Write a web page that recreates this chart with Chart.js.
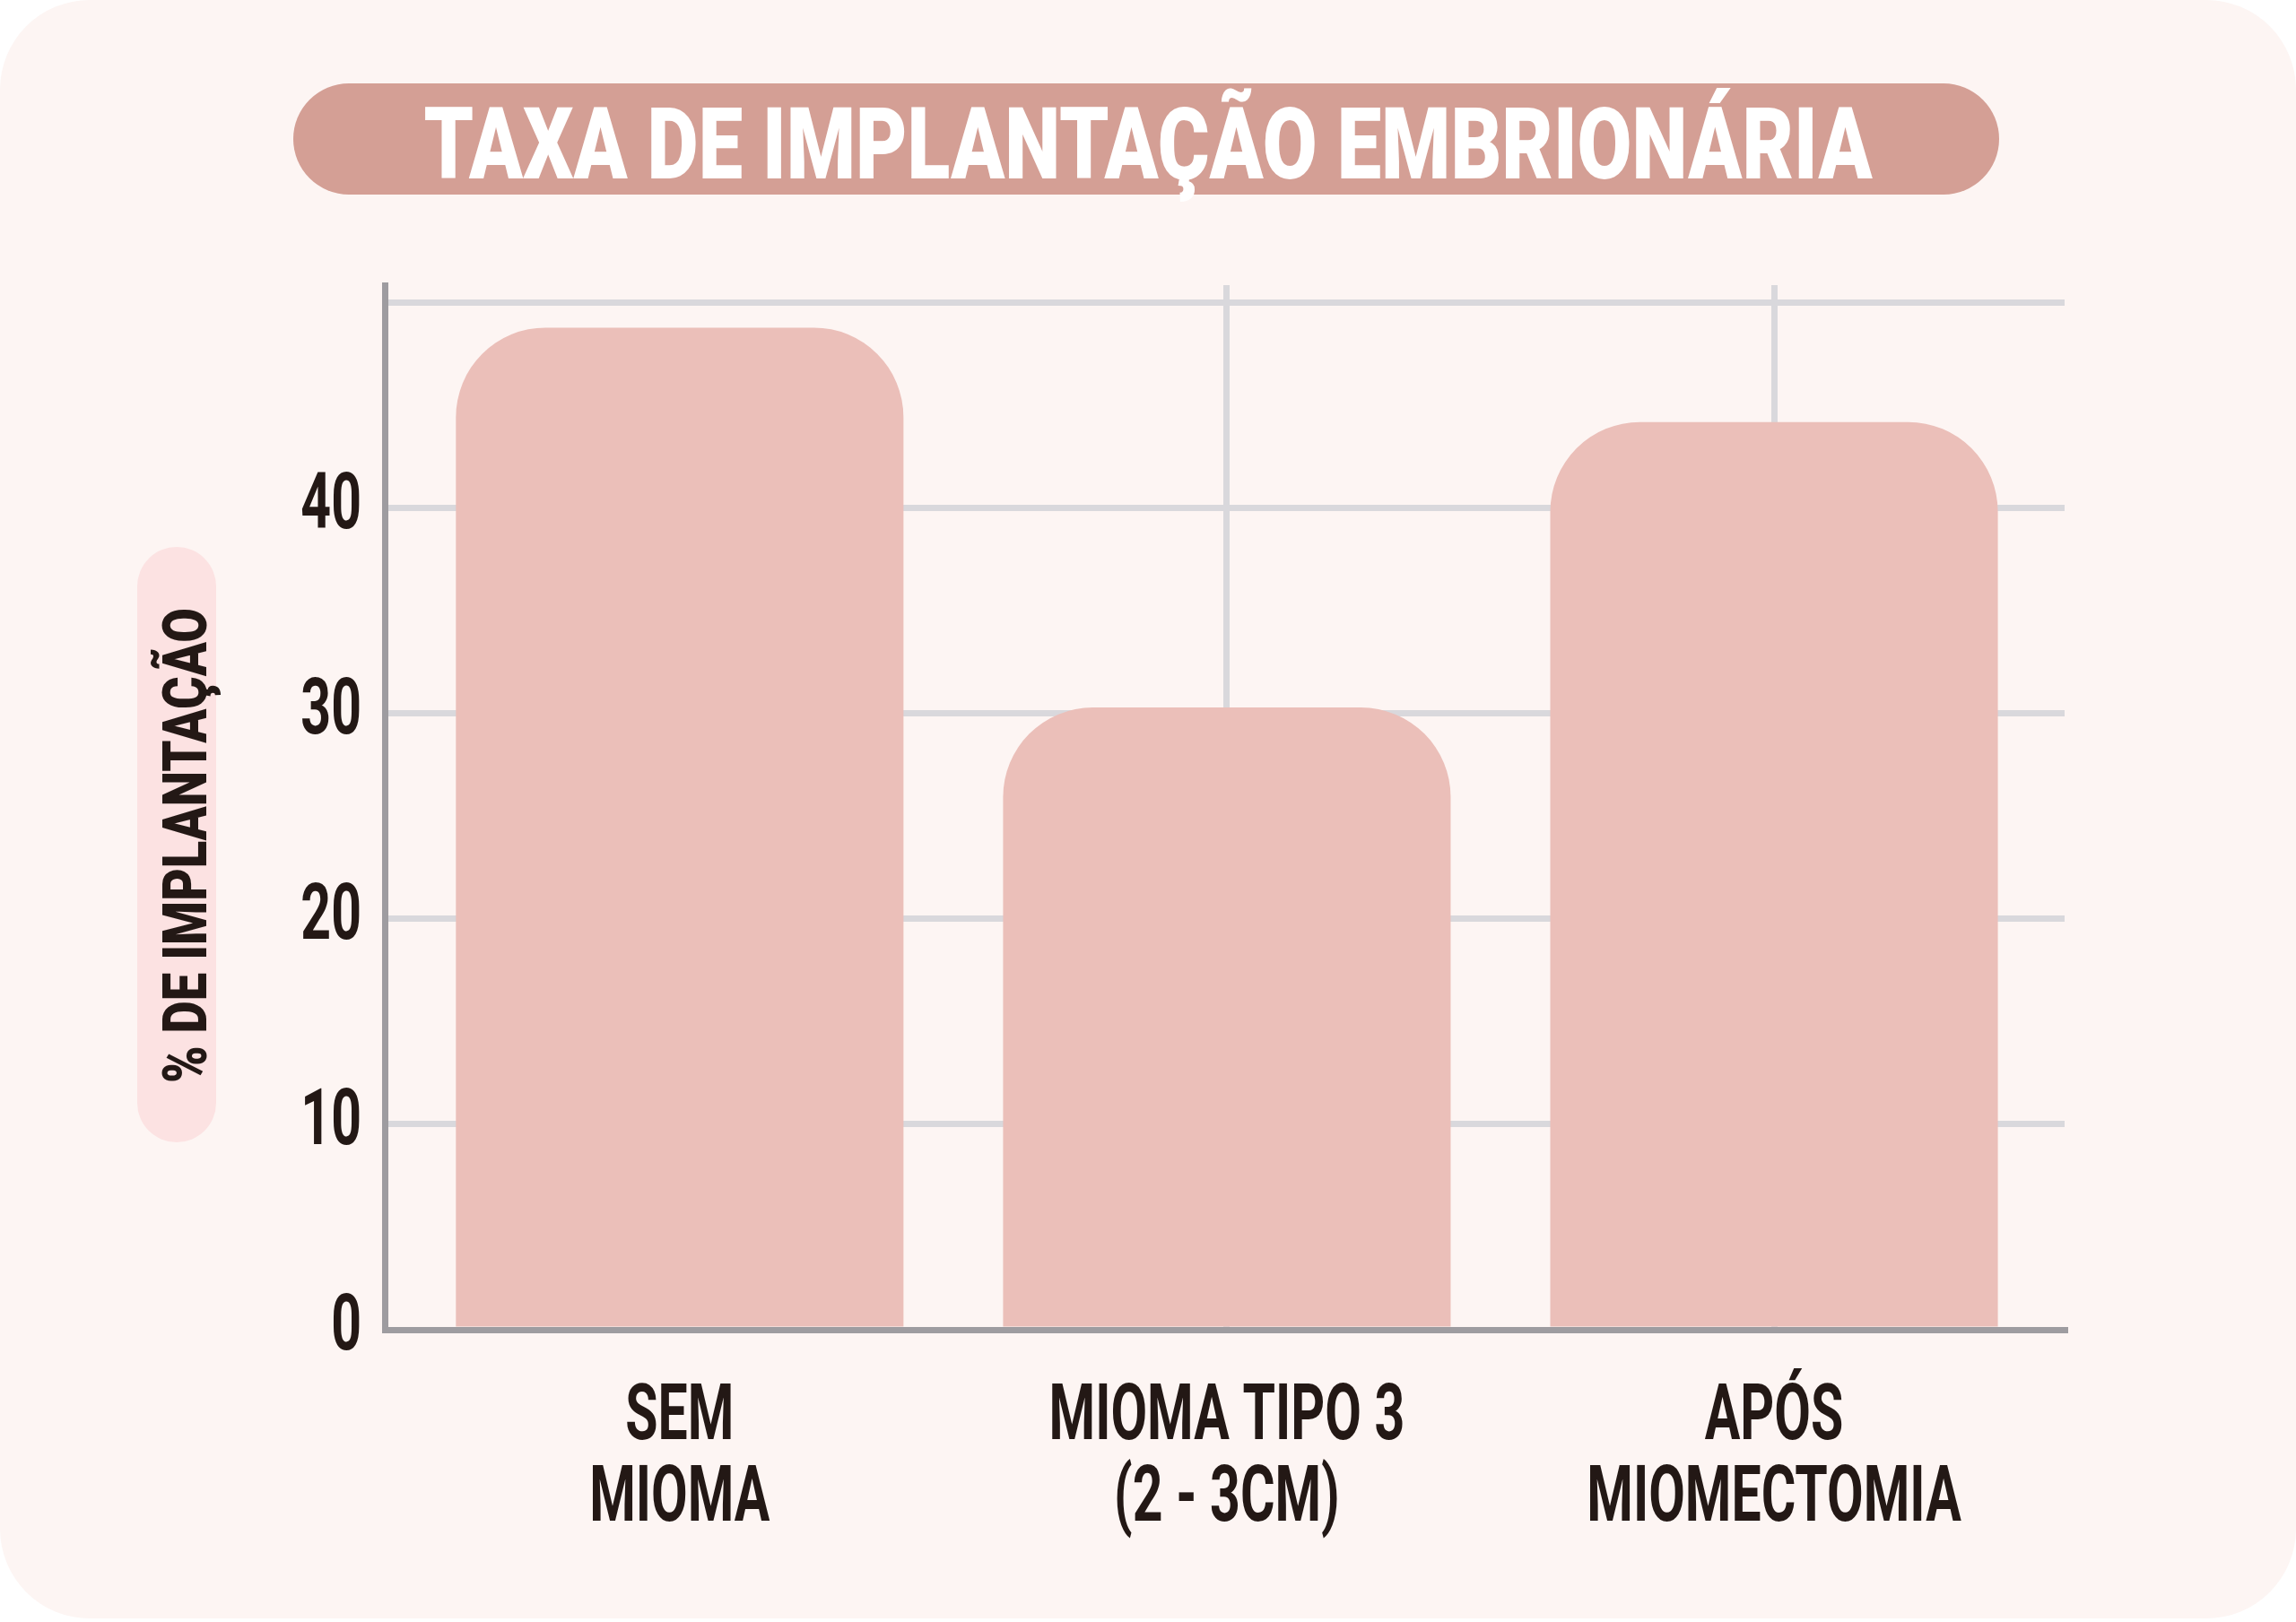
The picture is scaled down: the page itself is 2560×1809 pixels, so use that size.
<!DOCTYPE html>
<html>
<head>
<meta charset="utf-8">
<script src="https://cdn.jsdelivr.net/npm/chart.js@4.4.1/dist/chart.umd.min.js"></script>
<style>
  html, body { margin: 0; padding: 0; background: #ffffff; overflow: hidden; }
  #wrap { width: 2560px; height: 1809px; position: relative; }
  canvas { display: block; }
</style>
</head>
<body>
<div id="wrap"><canvas id="c" width="2560" height="1809"></canvas></div>
<script>
// ---- data ----
const categories = [['SEM', 'MIOMA'], ['MIOMA TIPO 3', '(2 - 3CM)'], ['APÓS', 'MIOMECTOMIA']];
const implantationRates = [48.8, 30.3, 44.2];
const yTickValues = [0, 10, 20, 30, 40, 50];
const yTickLabels = ['0', '10', '20', '30', '40', ''];
const chartTitle = 'TAXA DE IMPLANTAÇÃO EMBRIONÁRIA';
const yAxisTitle = '% DE IMPLANTAÇÃO';

// ---- style ----
const CARD_BG = '#fdf5f3';
const TITLE_PILL = '#d49f95';
const YTITLE_PILL = '#fce2e2';
const BAR_COLOR = '#ebbfb9';
const GRID_COLOR = '#d9d8dc';
const AXIS_COLOR = '#9e9ca0';
const TEXT_COLOR = '#231815';
const CONDENSE = 0.67;
const TRANSPARENT = 'rgba(0,0,0,0)';

function condensedText(ctx, text, cx, cy, font, targetWidth, color, rot) {
  ctx.save();
  ctx.font = font;
  const w = ctx.measureText(text).width;
  const cap = ctx.measureText('H').actualBoundingBoxAscent;
  ctx.translate(cx, cy);
  ctx.rotate(rot || 0);
  ctx.scale(targetWidth / w, 1);
  ctx.fillStyle = color;
  ctx.textAlign = 'center';
  ctx.textBaseline = 'alphabetic';
  ctx.fillText(text, 0, cap / 2);
  ctx.restore();
}

const decorPlugin = {
  id: 'decor',
  beforeDraw(chart) {
    const ctx = chart.ctx;
    const W = chart.width, H = chart.height;
    ctx.save();
    ctx.fillStyle = '#ffffff';
    ctx.fillRect(0, 0, W, H);
    ctx.fillStyle = CARD_BG;
    ctx.beginPath();
    ctx.roundRect(0, 0, W, H - 4, 100);
    ctx.fill();
    // title pill
    ctx.fillStyle = TITLE_PILL;
    ctx.beginPath();
    ctx.roundRect(327, 93, 1902, 124, 62);
    ctx.fill();
    // y title pill
    ctx.fillStyle = YTITLE_PILL;
    ctx.beginPath();
    ctx.roundRect(153, 610, 88, 664, 44);
    ctx.fill();
    ctx.restore();
    condensedText(ctx, chartTitle, 1280, 159, '900 111px Roboto, "Open Sans", sans-serif', 1615, '#ffffff', 0);
    condensedText(ctx, yAxisTitle, 205, 943, '900 69px Roboto, "Open Sans", sans-serif', 530, TEXT_COLOR, -Math.PI / 2);
  },
  afterUpdate(chart) {
    ['x', 'y'].forEach(id => {
      const s = chart.scales[id];
      if (!s || s._condensed) return;
      const orig = s.drawLabels;
      s.drawLabels = function (area) {
        const ctx = this.ctx;
        const r = ctx.rotate;
        ctx.rotate = function (a) { r.call(ctx, a); ctx.scale(CONDENSE, 1); };
        try { orig.call(this, area); } finally { delete ctx.rotate; }
      };
      s._condensed = true;
    });
  }
};

const tickFont = { family: 'Roboto, "Open Sans", sans-serif', weight: 'bold', size: 88 };

new Chart(document.getElementById('c'), {
  type: 'bar',
  data: {
    datasets: [{
      data: implantationRates.map((v, i) => ({ x: i, y: v })),
      backgroundColor: BAR_COLOR,
      borderWidth: 0,
      borderRadius: { topLeft: 100, topRight: 100, bottomLeft: 0, bottomRight: 0 },
      borderSkipped: 'start',
      barPercentage: 0.818,
      categoryPercentage: 1.0
    }]
  },
  options: {
    responsive: false,
    devicePixelRatio: 1,
    animation: false,
    layout: { padding: { left: 0, right: 258, top: 318, bottom: 0 } },
    plugins: { legend: { display: false }, tooltip: { enabled: false }, title: { display: false } },
    scales: {
      x: {
        type: 'linear',
        min: -0.539,
        max: 2.531,
        offset: false,
        afterBuildTicks: s => { s.ticks = categories.map((c, i) => ({ value: i })); },
        afterFit: s => { s.height = 326; },
        ticks: {
          callback: (v, i) => categories[i],
          autoSkip: false, maxRotation: 0, minRotation: 0,
          color: TEXT_COLOR,
          font: Object.assign({}, tickFont, { lineHeight: 1.035 }),
          padding: 54
        },
        grid: {
          offset: false,
          color: c => (c.tick && c.tick.value === 0) ? TRANSPARENT : GRID_COLOR,
          lineWidth: 7,
          drawTicks: false
        },
        border: { color: AXIS_COLOR, width: 7, z: 1 }
      },
      y: {
        type: 'linear',
        min: 0,
        max: 50.87,
        afterBuildTicks: s => { s.ticks = yTickValues.map(v => ({ value: v })); },
        afterFit: s => { s.width = 429; },
        ticks: {
          callback: (v, i) => yTickLabels[i],
          color: TEXT_COLOR,
          font: tickFont,
          padding: 26
        },
        grid: {
          color: c => (c.tick && c.tick.value === 0) ? TRANSPARENT : GRID_COLOR,
          lineWidth: 7,
          drawTicks: false
        },
        border: { color: AXIS_COLOR, width: 7, z: 1 }
      }
    }
  },
  plugins: [decorPlugin]
});
</script>
</body>
</html>
